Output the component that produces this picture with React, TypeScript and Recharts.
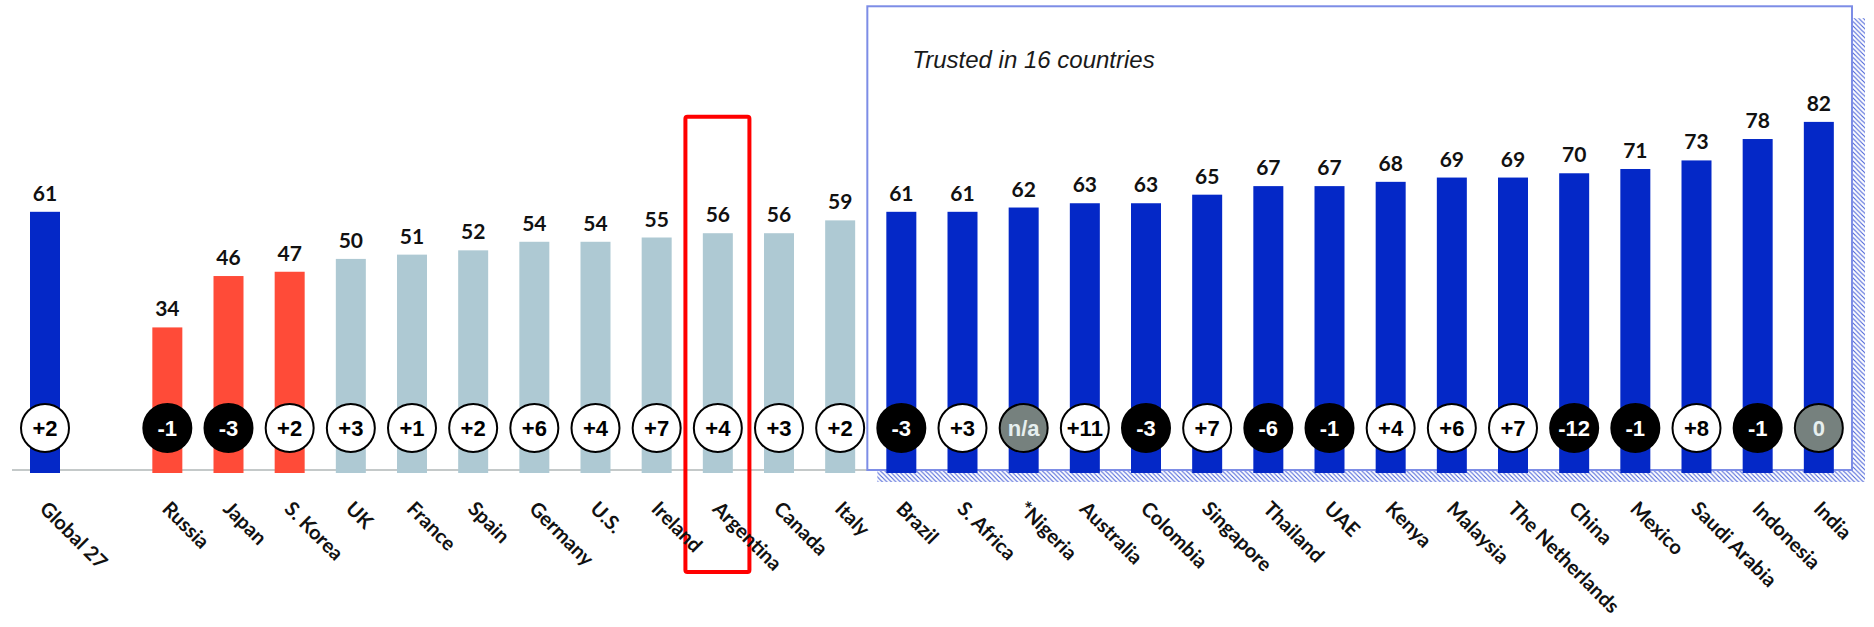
import React from "react";
import { Bar, BarChart, LabelList, ReferenceArea, XAxis, YAxis } from "recharts";

const COUNTRIES = [
  "Global 27", " ", "Russia", "Japan", "S. Korea", "UK", "France", "Spain", "Germany", "U.S.",
  "Ireland", "Argentina", "Canada", "Italy", "Brazil", "S. Africa", "*Nigeria", "Australia",
  "Colombia", "Singapore", "Thailand", "UAE", "Kenya", "Malaysia", "The Netherlands", "China",
  "Mexico", "Saudi Arabia", "Indonesia", "India",
];

const TRUST = [
  61, null, 34, 46, 47, 50, 51, 52, 54, 54, 55, 56, 56, 59, 61, 61, 62, 63, 63, 65, 67, 67, 68,
  69, 69, 70, 71, 73, 78, 82,
];

const CHANGE = [
  "+2", "", "-1", "-3", "+2", "+3", "+1", "+2", "+6", "+4", "+7", "+4", "+3", "+2", "-3", "+3",
  "n/a", "+11", "-3", "+7", "-6", "-1", "+4", "+6", "+7", "-12", "-1", "+8", "-1", "0",
];

// global / distrust / neutral / trust
const GROUP = [
  "global", "none", "distrust", "distrust", "distrust", "neutral", "neutral", "neutral", "neutral",
  "neutral", "neutral", "neutral", "neutral", "neutral", "trust", "trust", "trust", "trust",
  "trust", "trust", "trust", "trust", "trust", "trust", "trust", "trust", "trust", "trust",
  "trust", "trust",
];

const TRUSTED_FROM = "Brazil";
const TRUSTED_TO = "India";
const HIGHLIGHT = "Argentina";

const GROUP_COLORS: Record<string, string> = {
  global: "#0428c7",
  distrust: "#ff4b38",
  neutral: "#aec9d3",
  trust: "#0428c7",
  none: "transparent",
};

const data = COUNTRIES.map((name, i) => ({
  name,
  value: TRUST[i],
  change: CHANGE[i],
  group: GROUP[i],
}));

function badgeStyle(change: string) {
  if (change === "n/a" || change === "0") return { fill: "#76817e", text: "#e6efef" };
  if (change.startsWith("-")) return { fill: "#000000", text: "#ffffff" };
  return { fill: "#ffffff", text: "#000000" };
}

function BarWithBadge(props: any) {
  const { x, y, width, height, payload } = props;
  if (payload == null || payload.value == null) return null;
  const cx = x + width / 2;
  const cy = y + height - 45;
  const badge = badgeStyle(payload.change);
  return (
    <g>
      <rect x={x} y={y} width={width} height={height} fill={GROUP_COLORS[payload.group]} />
      {payload.change ? (
        <g>
          <circle cx={cx} cy={cy} r={24} fill={badge.fill} stroke="#000" strokeWidth={2} />
          <text
            x={cx}
            y={cy + 8}
            textAnchor="middle"
            fill={badge.text}
            style={{ fontFamily: "Liberation Sans, Arial, sans-serif", fontWeight: 700, fontSize: 22 }}
          >
            {payload.change}
          </text>
        </g>
      ) : null}
    </g>
  );
}

function TrustedBox(props: any) {
  const { x, y, width, height } = props;
  const left = x - 3;
  const right = x + width + 3;
  const top = y;
  const bottom = y + height - 3;
  return (
    <g>
      <defs>
        <pattern id="hatch" patternUnits="userSpaceOnUse" width={4.5} height={4.5}>
          <rect width={4.5} height={4.5} fill="#ffffff" />
          <path d="M-1,-1 L5.5,5.5 M-1,3.5 L1,5.5 M3.5,-1 L5.5,1" stroke="#4a62d8" strokeWidth={1.1} />
        </pattern>
      </defs>
      <line x1={12} x2={left} y1={bottom} y2={bottom} stroke="#c4c9c9" strokeWidth={2} />
      <rect x={right} y={top + 12} width={13} height={bottom - top} fill="url(#hatch)" />
      <rect x={left + 10} y={bottom} width={right - left + 3} height={12} fill="url(#hatch)" />
      <rect
        x={left}
        y={top}
        width={right - left}
        height={bottom - top}
        fill="#ffffff"
        stroke="#7d8de6"
        strokeWidth={2}
      />
      <text
        x={left + 45}
        y={top + 62}
        fill="#1a1a1a"
        style={{ fontFamily: "Liberation Sans, Arial, sans-serif", fontStyle: "italic", fontSize: 24 }}
      >
        Trusted in 16 countries
      </text>
    </g>
  );
}

function HighlightBox(props: any) {
  const { x, y, width, height } = props;
  const cx = x + width / 2;
  return (
    <rect
      x={cx - 32}
      y={y}
      width={64}
      height={height + 99}
      fill="none"
      stroke="#ff0000"
      strokeWidth={4}
      rx={2}
    />
  );
}

function CountryTick(props: any) {
  const { x, y, payload } = props;
  if (!payload.value || !payload.value.trim()) return null;
  return (
    <text
      transform={`translate(${x - 6}, ${y + 37}) rotate(45)`}
      textAnchor="start"
      fill="#111"
      style={{ fontFamily: "Lato, sans-serif", fontWeight: 700, fontSize: 20 }}
    >
      {payload.value}
    </text>
  );
}

export default function App() {
  return (
    <div style={{ position: "absolute", left: 0, top: 0, width: 1874, height: 627, background: "#fff" }}>
      <BarChart
        width={1874}
        height={627}
        data={data}
        margin={{ top: 2, right: 25, bottom: 4, left: 14 }}
        barSize={30}
      >
        <XAxis
          dataKey="name"
          height={150}
          interval={0}
          axisLine={false}
          tickLine={false}
          tickSize={0}
          tickMargin={0}
          tick={<CountryTick />}
        />
        <YAxis hide domain={[0, 110]} />
        <ReferenceArea x1={TRUSTED_FROM} x2={TRUSTED_TO} y1={0} y2={109} shape={TrustedBox} />
        <ReferenceArea x1={HIGHLIGHT} x2={HIGHLIGHT} y1={0} y2={83.2} shape={HighlightBox} />
        <Bar dataKey="value" shape={BarWithBadge} isAnimationActive={false}>
          <LabelList
            dataKey="value"
            position="top"
            offset={11}
            fill="#111"
            style={{ fontFamily: "Lato, sans-serif", fontWeight: 700, fontSize: 21 }}
          />
        </Bar>
      </BarChart>
    </div>
  );
}
